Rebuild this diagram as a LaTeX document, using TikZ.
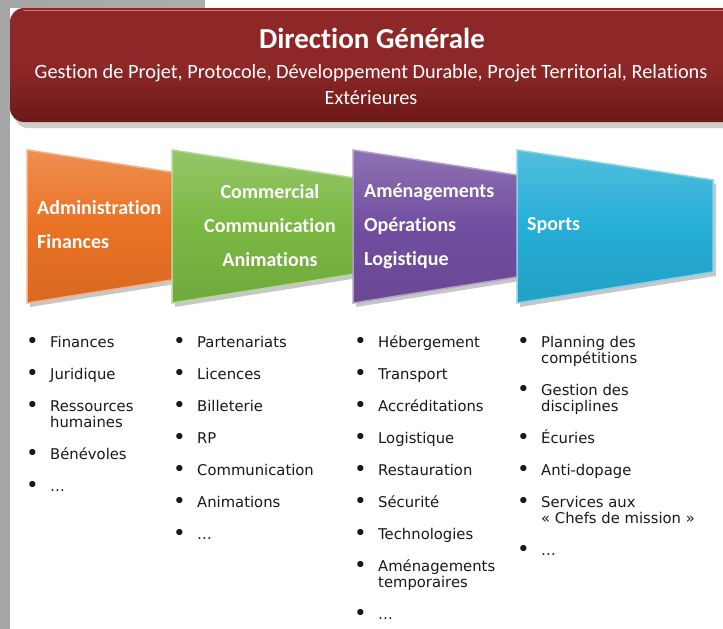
\documentclass[tikz,border=0pt]{standalone}
\usepackage{fontspec}
\setmainfont{Carlito}[Ligatures=NoCommon]
\newfontfamily\listfont{DejaVu Sans}
\usetikzlibrary{positioning}

\definecolor{dgred}{RGB}{142,40,40}
\definecolor{dgdark}{RGB}{108,24,24}
\definecolor{dglight}{RGB}{222,118,118}
\definecolor{admorange}{RGB}{234,114,36}
\definecolor{comgreen}{RGB}{122,184,66}
\definecolor{opepurple}{RGB}{114,78,160}
\definecolor{spocyan}{RGB}{38,174,214}
\definecolor{listgrey}{RGB}{25,25,25}

\tikzset{
  poletext/.style={text=white, inner sep=0pt, font=\fontsize{20}{34}\selectfont\bfseries},
  tasks/.style={anchor=base west, inner sep=0pt, text=listgrey, font=\listfont\fontsize{14.8}{16}\selectfont},
}

% bullet list as a two column tabular
\newcommand{\tasklist}[1]{\renewcommand\arraystretch{1}%
  \begin{tabular}[t]{@{}p{24pt}@{}l@{}}#1\end{tabular}}
\newcommand{\itm}[1]{\raisebox{-1.2pt}{\scalebox{1.45}{\textbullet}} & \smash{#1}}
\newcommand{\cont}[1]{& \smash{#1}}

\begin{document}
\begin{tikzpicture}[x=1pt,y=-1pt]
  \useasboundingbox (0,0) rectangle (723,629);

  % background
  \shade[left color=black!35, right color=black!25] (0,0) rectangle (723,629);
  \fill[white] (205,0) -- (723,0) -- (723,629) -- (22,629)
    arc[start angle=270, end angle=180, radius=12] -- (10,8) -- (205,8) -- cycle;

  % direction generale
  \fill[black!20] (14,14) [rounded corners=14pt] rectangle (740,128);
  \shade[top color=dgred, bottom color=dgdark, middle color=dgred, rounded corners=14pt]
    (10,8) rectangle (740,122);
  \draw[dglight, line width=1.5pt, line cap=round] (24,10.5) -- (723,10.5);
  \node[text=white, font=\fontsize{29}{30}\selectfont\bfseries] (dg) at (372,38) {Direction Générale};
  \node[text=white, font=\fontsize{20.3}{26}\selectfont, align=center] (dgsub) at (371,85)
    {Gestion de Projet, Protocole, Développement Durable, Projet Territorial, Relations\\Extérieures};

  % poles
  \foreach \x/\c in {27/admorange, 172/comgreen, 353/opepurple, 517/spocyan}{
    \fill[black!22] ({\x+3},154) -- ({\x+199},184) -- ({\x+199},276) -- ({\x+3},307) -- cycle;
    \shadedraw[top color=\c!80!white, bottom color=\c!92!black, middle color=\c,
      draw=\c!55!white, line width=1.5pt]
      (\x,150) -- ({\x+196},180) -- ({\x+196},272) -- (\x,303) -- cycle;
  }
  \node[poletext, align=left, anchor=west] (adm) at (37,225) {Administration\\Finances};
  \node[poletext, align=center] (com) at (270,226) {Commercial\\Communication\\Animations};
  \node[poletext, align=left, anchor=west] (ope) at (364,226) {Aménagements\\Opérations\\Logistique};
  \node[poletext, align=left, anchor=west] (spo) at (527,226) {Sports};

  % lists
  \node[tasks] (admlist) at (26,347) {\tasklist{
    \itm{Finances}\\[16pt]
    \itm{Juridique}\\[16pt]
    \itm{Ressources}\\ \cont{humaines}\\[16pt]
    \itm{Bénévoles}\\[16pt]
    \itm{\dots}}};
  \node[tasks] (comlist) at (173,347) {\tasklist{
    \itm{Partenariats}\\[16pt]
    \itm{Licences}\\[16pt]
    \itm{Billeterie}\\[16pt]
    \itm{RP}\\[16pt]
    \itm{Communication}\\[16pt]
    \itm{Animations}\\[16pt]
    \itm{\dots}}};
  \node[tasks] (opelist) at (354,347) {\tasklist{
    \itm{Hébergement}\\[16pt]
    \itm{Transport}\\[16pt]
    \itm{Accréditations}\\[16pt]
    \itm{Logistique}\\[16pt]
    \itm{Restauration}\\[16pt]
    \itm{Sécurité}\\[16pt]
    \itm{Technologies}\\[16pt]
    \itm{Aménagements}\\ \cont{temporaires}\\[16pt]
    \itm{\dots}}};
  \node[tasks] (spolist) at (517,347) {\tasklist{
    \itm{Planning des}\\ \cont{compétitions}\\[16pt]
    \itm{Gestion des}\\ \cont{disciplines}\\[16pt]
    \itm{Écuries}\\[16pt]
    \itm{Anti-dopage}\\[16pt]
    \itm{Services aux}\\ \cont{«~Chefs de mission~»}\\[16pt]
    \itm{\dots}}};
\end{tikzpicture}
\end{document}
